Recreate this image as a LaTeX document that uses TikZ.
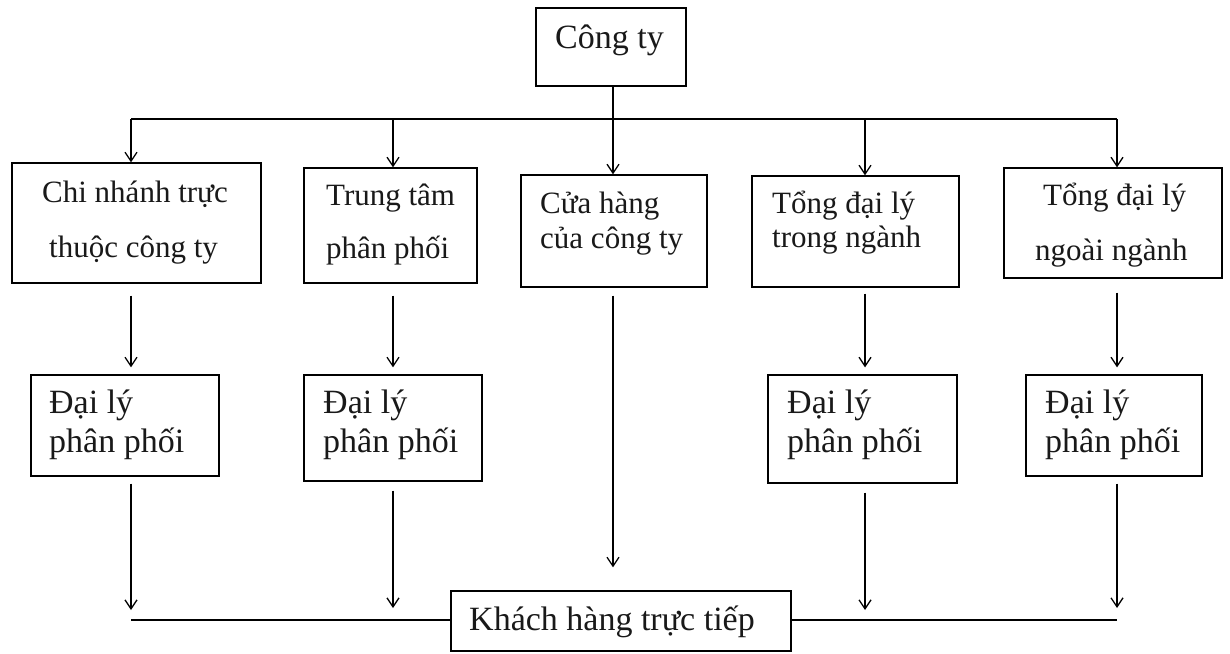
\documentclass[tikz,border=0pt]{standalone}
\usepackage{fontspec}
\setmainfont{Liberation Serif}
\usetikzlibrary{arrows.meta}
\begin{document}
\begin{tikzpicture}[x=1pt,y=-1pt,
  line/.style={draw=black, line width=1.3pt},
  arr/.style={line, -{Straight Barb[length=9pt,width=12pt]}},
  box/.style={draw=black, line width=1.3pt, rectangle, inner sep=0pt},
  txt/.style={anchor=base west, inner sep=0pt, text=black!90, font=\fontsize{31}{31}\selectfont},
  bigtxt/.style={txt, font=\fontsize{34}{34}\selectfont}]
\useasboundingbox[fill=white] (0,0) rectangle (1230,653);

% boxes
\node[box, minimum width=150, minimum height=78] (ct) at (611,47) {};
\node[box, minimum width=249, minimum height=120] (n1) at (136.5,223) {};
\node[box, minimum width=173, minimum height=115] (n2) at (390.5,225.5) {};
\node[box, minimum width=186, minimum height=112] (n3) at (614,231) {};
\node[box, minimum width=207, minimum height=111] (n4) at (855.5,231.5) {};
\node[box, minimum width=218, minimum height=110] (n5) at (1113,223) {};
\node[box, minimum width=188, minimum height=101] (d1) at (125,425.5) {};
\node[box, minimum width=178, minimum height=106] (d2) at (393,428) {};
\node[box, minimum width=189, minimum height=108] (d4) at (862.5,429) {};
\node[box, minimum width=176, minimum height=101] (d5) at (1114,425.5) {};
\node[box, minimum width=340, minimum height=60] (kh) at (621,621) {};

% texts
\node[bigtxt] (tct) at (555,48) {Công ty};
\node[txt] (t1a) at (42,202) {Chi nhánh trực};
\node[txt] (t1b) at (49,257) {thuộc công ty};
\node[txt] (t2a) at (326,205) {Trung tâm};
\node[txt] (t2b) at (326,258) {phân phối};
\node[txt] (t3a) at (540,213) {Cửa hàng};
\node[txt] (t3b) at (540,248) {của công ty};
\node[txt] (t4a) at (772,213) {Tổng đại lý};
\node[txt] (t4b) at (772,247) {trong ngành};
\node[txt] (t5a) at (1043,205) {Tổng đại lý};
\node[txt] (t5b) at (1035,260) {ngoài ngành};
\node[bigtxt] (td1a) at (49,413) {Đại lý};
\node[bigtxt] (td1b) at (49,452) {phân phối};
\node[bigtxt] (td2a) at (323,413) {Đại lý};
\node[bigtxt] (td2b) at (323,452) {phân phối};
\node[bigtxt] (td4a) at (787,413) {Đại lý};
\node[bigtxt] (td4b) at (787,452) {phân phối};
\node[bigtxt] (td5a) at (1045,413) {Đại lý};
\node[bigtxt] (td5b) at (1045,452) {phân phối};
\node[bigtxt] (tkh) at (469,630) {Khách hàng trực tiếp};

% column coordinates and buses
\coordinate (c1) at (131,0);
\coordinate (c2) at (393,0);
\coordinate (c3) at (613,0);
\coordinate (c4) at (865,0);
\coordinate (c5) at (1117,0);
\coordinate (busL) at (131,119);
\coordinate (busR) at (1117,119);
\coordinate (bl) at (131,620);
\coordinate (br) at (1117,620);

% top distribution
\draw[line] (c3 |- ct.south) -- (c3 |- busL);
\draw[line] (busL) -- (busR);
\draw[arr] (busL) -- (c1 |- n1.north);
\draw[arr] (c2 |- busL) -- (c2 |- n2.north);
\draw[arr] (c3 |- busL) -- (c3 |- n3.north);
\draw[arr] (c4 |- busL) -- (c4 |- n4.north);
\draw[arr] (busR) -- (c5 |- n5.north);

% second tier
\draw[arr, shorten <=12pt, shorten >=7pt] (c1 |- n1.south) -- (c1 |- d1.north);
\draw[arr, shorten <=12pt, shorten >=7pt] (c2 |- n2.south) -- (c2 |- d2.north);
\draw[arr, shorten <=8pt, shorten >=23pt] (c3 |- n3.south) -- (c3 |- kh.north);
\draw[arr, shorten <=6pt, shorten >=7pt] (c4 |- n4.south) -- (c4 |- d4.north);
\draw[arr, shorten <=14pt, shorten >=7pt] (c5 |- n5.south) -- (c5 |- d5.north);

% third tier
\draw[arr, shorten <=7pt, shorten >=10pt] (c1 |- d1.south) -- (bl);
\draw[arr, shorten <=9pt, shorten >=12pt] (c2 |- d2.south) -- (c2 |- bl);
\draw[arr, shorten <=9pt, shorten >=10pt] (c4 |- d4.south) -- (c4 |- bl);
\draw[arr, shorten <=7pt, shorten >=12pt] (c5 |- d5.south) -- (br);

% bottom bus
\draw[line] (bl) -- (bl -| kh.west);
\draw[line] (br -| kh.east) -- (br);
\end{tikzpicture}
\end{document}
